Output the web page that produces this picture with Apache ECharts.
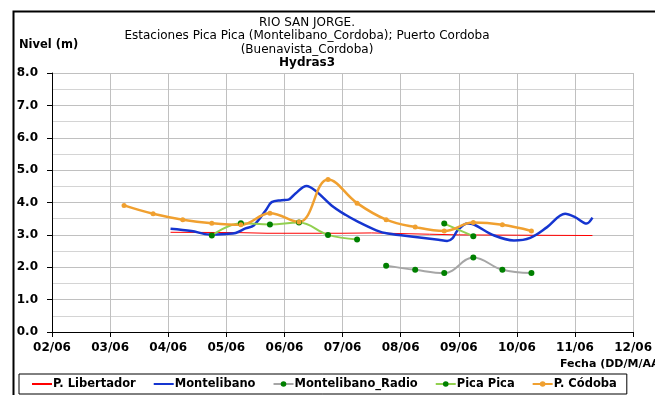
<!DOCTYPE html>
<html>
<head>
<meta charset="utf-8">
<script src="https://cdn.jsdelivr.net/npm/echarts@6/dist/echarts.min.js"></script>
<style>
  html, body { margin: 0; padding: 0; background: #fff; }
  #chart { width: 655px; height: 395px; }
</style>
</head>
<body>
<div id="chart"></div>
<script>
// Etiquetas del eje de fechas (días de junio)
const fechaEtiquetas = ['02/06', '03/06', '04/06', '05/06', '06/06', '07/06', '08/06', '09/06', '10/06', '11/06', '12/06'];

// P. Libertador
const libertadorDia   = [4.04, 5.2, 5.7, 7.0, 7.5, 8.5, 9.0, 10.0, 11.3];
const libertadorNivel = [3.08, 3.07, 3.05, 3.05, 3.06, 3.02, 3.00, 2.99, 2.98];

// Montelibano
const montelibanoDia   = [4.04, 4.4, 4.71, 5.0, 5.16, 5.33, 5.47, 5.68, 5.78, 5.95, 6.07, 6.19, 6.38, 6.53, 6.81, 7.05, 7.27, 7.58, 7.78, 8.29, 8.65, 8.80, 8.89, 8.98, 9.15, 9.26, 9.61, 9.95, 10.23, 10.52, 10.83, 11.0, 11.2, 11.3];
const montelibanoNivel = [3.19, 3.12, 3.01, 3.03, 3.06, 3.20, 3.29, 3.76, 4.01, 4.07, 4.09, 4.28, 4.51, 4.37, 3.91, 3.62, 3.40, 3.14, 3.04, 2.93, 2.85, 2.81, 2.89, 3.14, 3.35, 3.32, 2.98, 2.83, 2.91, 3.24, 3.65, 3.55, 3.35, 3.53];

// Montelibano_Radio
const radioDia   = [7.75, 8.25, 8.75, 9.25, 9.75, 10.25];
const radioNivel = [2.05, 1.92, 1.82, 2.30, 1.92, 1.82];

// Pica Pica (sin dato el 7.75)
const picaDia   = [4.75, 5.25, 5.75, 6.25, 6.75, 7.25, 7.75, 8.75, 9.25];
const picaNivel = [2.98, 3.36, 3.32, 3.38, 3.00, 2.86, null, 3.35, 2.96];

// P. Córdoba
const cordobaDia   = [3.24, 3.74, 4.25, 4.75, 5.25, 5.75, 6.25, 6.75, 7.25, 7.75, 8.25, 8.75, 9.25, 9.75, 10.25];
const cordobaNivel = [3.91, 3.65, 3.47, 3.36, 3.31, 3.67, 3.40, 4.71, 3.98, 3.47, 3.24, 3.12, 3.38, 3.31, 3.12];

const pares = (xs, ys) => xs.map((x, i) => [x, ys[i] === null ? '-' : ys[i]]);

const FONT = 'DejaVu Sans';
const chart = echarts.init(document.getElementById('chart'), null, { renderer: 'canvas' });

// Series sin marcador: en la leyenda solo se ve la línea
const sinMarcador = { color: 'rgba(0,0,0,0)', borderWidth: 0, opacity: 0 };

chart.setOption({
  animation: false,
  backgroundColor: '#fff',
  textStyle: { fontFamily: FONT, color: '#000' },
  title: {
    text: 'RIO SAN JORGE.\nEstaciones Pica Pica (Montelibano_Cordoba); Puerto Cordoba\n(Buenavista_Cordoba)',
    subtext: 'Hydras3',
    left: 302,
    top: 11,
    textAlign: 'center',
    itemGap: 0,
    textStyle: { fontFamily: FONT, fontSize: 12, fontWeight: 'normal', color: '#000', lineHeight: 13.5 },
    subtextStyle: { fontFamily: FONT, fontSize: 12, fontWeight: 'bold', color: '#000', lineHeight: 13.5 }
  },
  graphic: [
    { type: 'rect', left: 11, top: 9, shape: { width: 660, height: 400 }, style: { fill: 'none', stroke: '#000', lineWidth: 2 }, silent: true, z: 100 },
    { type: 'text', left: 19, top: 39, style: { text: 'Nivel (m)', font: 'bold 11.5px "DejaVu Sans"', fill: '#000' } },
    { type: 'text', left: 560, top: 359, style: { text: 'Fecha (DD/M/AA)', font: 'bold 11px "DejaVu Sans"', fill: '#000' } }
  ],
  legend: {
    left: 19,
    top: 374,
    padding: [4, 10, 4, 12],
    itemGap: 17,
    itemWidth: 20,
    itemHeight: 7,
    borderColor: '#000',
    borderWidth: 1,
    borderRadius: 0,
    textStyle: { fontFamily: FONT, fontSize: 11.5, fontWeight: 'bold', color: '#000', padding: [0, 0, 0, -4] },
    data: [
      { name: 'P. Libertador', itemStyle: sinMarcador },
      { name: 'Montelibano', itemStyle: sinMarcador },
      'Montelibano_Radio',
      'Pica Pica',
      'P. Códoba'
    ]
  },
  grid: { left: 52, right: 18, top: 73, bottom: 63, containLabel: false },
  xAxis: {
    type: 'value',
    min: 2,
    max: 12,
    interval: 1,
    axisLine: { show: true, lineStyle: { color: '#000', width: 1 } },
    axisTick: { show: true, length: 5, lineStyle: { color: '#000' } },
    axisLabel: {
      margin: 10,
      fontFamily: FONT, fontSize: 12, fontWeight: 'bold', color: '#000',
      formatter: v => fechaEtiquetas[Math.round(v) - 2]
    },
    splitLine: { show: true, lineStyle: { color: '#C0C0C0', width: 1 } }
  },
  yAxis: {
    type: 'value',
    min: 0,
    max: 8,
    interval: 1,
    axisLine: { show: true, lineStyle: { color: '#000', width: 1 } },
    axisTick: { show: true, length: 5, lineStyle: { color: '#000' } },
    axisLabel: {
      margin: 14,
      fontFamily: FONT, fontSize: 12, fontWeight: 'bold', color: '#000',
      formatter: v => v.toFixed(1)
    },
    splitLine: { show: true, lineStyle: { color: '#C0C0C0', width: 1 } },
    minorTick: { show: false, splitNumber: 2 },
    minorSplitLine: { show: true, lineStyle: { color: '#D4D4D4', width: 1 } }
  },
  series: [
    {
      name: 'P. Libertador', type: 'line',
      data: pares(libertadorDia, libertadorNivel),
      showSymbol: false, symbol: 'none',
      lineStyle: { color: '#FF0000', width: 1 },
      itemStyle: { color: '#FF0000' }
    },
    {
      name: 'Montelibano', type: 'line',
      data: pares(montelibanoDia, montelibanoNivel),
      smooth: 0.35, showSymbol: false, symbol: 'none',
      lineStyle: { color: '#1535D0', width: 2.5 },
      itemStyle: { color: '#1535D0' }
    },
    {
      name: 'Montelibano_Radio', type: 'line',
      data: pares(radioDia, radioNivel),
      smooth: 0.4, symbol: 'circle', symbolSize: 6,
      lineStyle: { color: '#A6A6A6', width: 2 },
      itemStyle: { color: '#008000', borderWidth: 0 }
    },
    {
      name: 'Pica Pica', type: 'line',
      data: pares(picaDia, picaNivel),
      smooth: 0.4, connectNulls: false, symbol: 'circle', symbolSize: 6,
      lineStyle: { color: '#92D050', width: 2 },
      itemStyle: { color: '#008000', borderWidth: 0 }
    },
    {
      name: 'P. Códoba', type: 'line',
      data: pares(cordobaDia, cordobaNivel),
      smooth: 0.4, symbol: 'circle', symbolSize: 5,
      lineStyle: { color: '#F0A030', width: 2.5 },
      itemStyle: { color: '#F0A030', borderWidth: 0 }
    }
  ]
});
</script>
</body>
</html>
